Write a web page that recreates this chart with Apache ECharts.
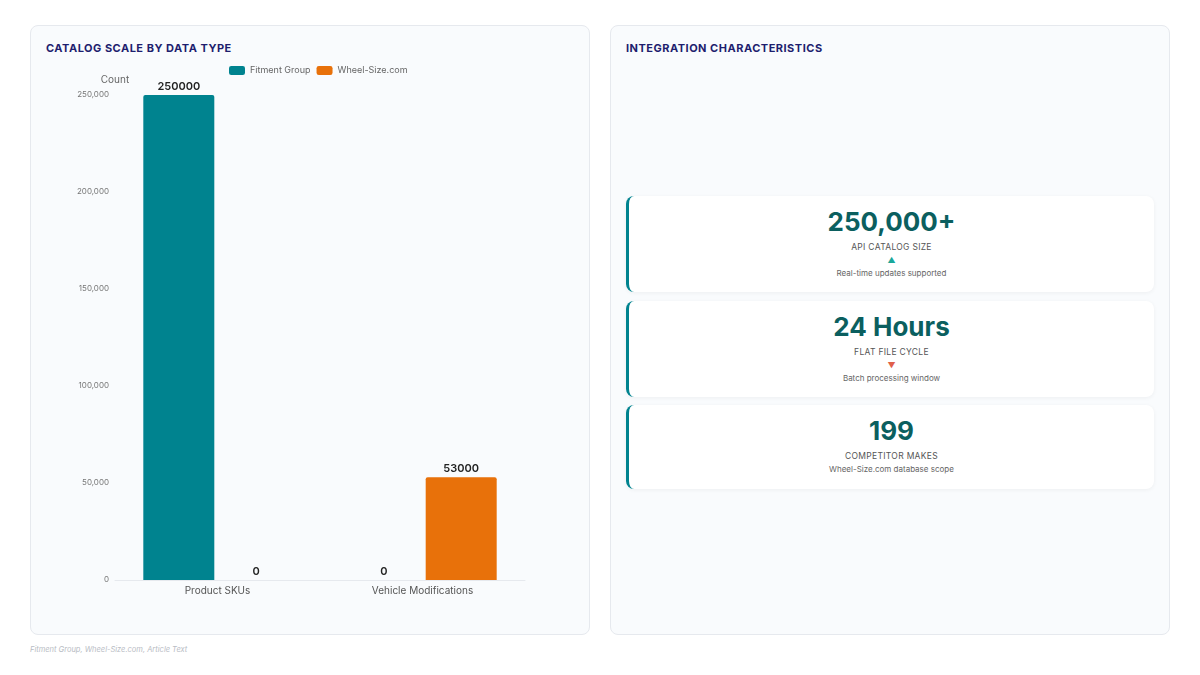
<!DOCTYPE html>
<html><head><meta charset="utf-8">
<script src="https://cdn.jsdelivr.net/npm/echarts@6/dist/echarts.min.js"></script>
<style>
html,body{margin:0;padding:0;width:1200px;height:675px;background:#fff;font-family:Inter,"Noto Sans",sans-serif;overflow:hidden}
.panel{position:absolute;top:25px;height:610px;width:560px;background:#f9fbfd;border:1px solid #e6e9ee;border-radius:8px;box-sizing:border-box}
.ptitle{position:absolute;left:15px;top:15px;font-size:11px;font-weight:700;color:#1e1e6e;letter-spacing:0.5px}
.card{position:absolute;left:15px;width:528px;background:#fff;border-left:3px solid #00838f;border-radius:8px;box-sizing:border-box;box-shadow:0 1px 4px rgba(0,0,0,0.05);text-align:center}
.big{font-size:26px;font-weight:700;color:#0b5f5f;line-height:30px}
.lab{font-size:8.5px;color:#555;letter-spacing:0.3px;margin-top:5px}
.arr{font-size:8px;line-height:10px;margin-top:3px}
.sub{font-size:8px;color:#666;margin-top:3px}
#chart{position:absolute;left:0;top:0;width:1200px;height:675px}
.foot{position:absolute;left:30px;top:645px;font-size:7.5px;font-style:italic;color:#b8bcc4}
</style></head>
<body>
<div class="panel" style="left:30px"><div class="ptitle">CATALOG SCALE BY DATA TYPE</div></div>
<div class="panel" style="left:610px"><div class="ptitle">INTEGRATION CHARACTERISTICS</div>
  <div class="card" style="top:170px;height:96px;padding-top:11px">
    <div class="big">250,000+</div><div class="lab">API CATALOG SIZE</div>
    <div class="arr" style="color:#1aa89a">▲</div><div class="sub">Real-time updates supported</div></div>
  <div class="card" style="top:275px;height:96px;padding-top:11px">
    <div class="big">24 Hours</div><div class="lab">FLAT FILE CYCLE</div>
    <div class="arr" style="color:#e0604a">▼</div><div class="sub">Batch processing window</div></div>
  <div class="card" style="top:379px;height:84px;padding-top:11px">
    <div class="big">199</div><div class="lab">COMPETITOR MAKES</div>
    <div class="sub">Wheel-Size.com database scope</div></div>
</div>
<div class="foot">Fitment Group, Wheel-Size.com, Article Text</div>
<div id="chart"></div>
<script>
const categories = ["Product SKUs", "Vehicle Modifications"];
const fitmentGroup = [250000, 0];
const wheelSize = [0, 53000];
const seriesNames = ["Fitment Group", "Wheel-Size.com"];

const chart = echarts.init(document.getElementById('chart'), null, {renderer:'canvas'});
const lbl = {show:true, position:'top', distance:3, color:'#222', fontSize:11, fontWeight:600, fontFamily:'Inter'};
chart.setOption({
  backgroundColor:'transparent',
  textStyle:{fontFamily:'Inter'},
  legend:{data:seriesNames, left:224, top:61, itemWidth:16, itemHeight:9, itemGap:6,
    icon:'roundRect', textStyle:{color:'#666', fontSize:9, fontFamily:'Inter'}},
  grid:{left:115, right:675, top:95, bottom:95},
  xAxis:{type:'category', data:categories,
    axisLine:{lineStyle:{color:'#e6e9ee'}}, axisTick:{show:false},
    axisLabel:{color:'#555', fontSize:10, margin:6}},
  yAxis:{type:'value', min:0, max:250000, interval:50000, name:'Count',
    nameTextStyle:{color:'#666', fontSize:10, padding:[0,0,0,0]}, nameGap:10,
    axisLine:{show:false}, axisTick:{show:false}, splitLine:{show:false},
    axisLabel:{color:'#777', fontSize:8, margin:6,
      formatter:v=>v.toLocaleString('en-US')}},
  series:[
    {name:seriesNames[0], type:'bar', data:fitmentGroup, barWidth:71, barGap:'9%',
      itemStyle:{color:'#00838f', borderRadius:[2,2,0,0]}, label:lbl},
    {name:seriesNames[1], type:'bar', data:wheelSize, barWidth:71,
      itemStyle:{color:'#e8710a', borderRadius:[2,2,0,0]}, label:lbl}
  ]
});
</script>
</body></html>
